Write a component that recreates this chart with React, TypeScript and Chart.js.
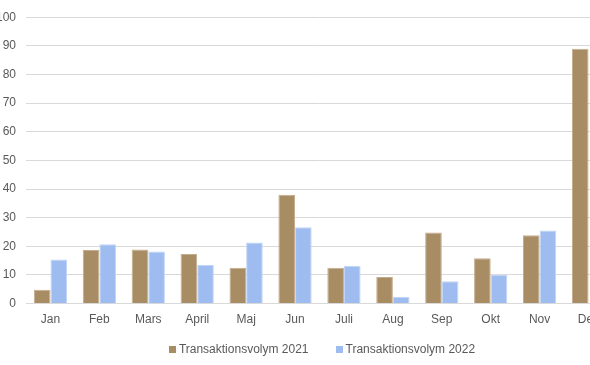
import React, { useEffect, useRef } from "react";
import { Chart, registerables } from "chart.js";

Chart.register(...registerables);

const months = ["Jan", "Feb", "Mars", "April", "Maj", "Jun", "Juli", "Aug", "Sep", "Okt", "Nov", "Dec"];
const volume2021 = [4.8, 18.7, 18.9, 17.3, 12.5, 38, 12.5, 9.3, 24.8, 15.8, 23.9, 89];
const volume2022 = [15.4, 20.7, 18.2, 13.6, 21.3, 26.7, 13.2, 2.4, 7.8, 10.1, 25.5, null];
const seriesNames = ["Transaktionsvolym 2021", "Transaktionsvolym 2022"];

const FONT = '"Liberation Sans", Arial, sans-serif';
const CANVAS_LEFT = -10;
const LEGEND_CENTER_X = 322 - CANVAS_LEFT;
const LEGEND_Y = 349;

const bottomLegend = {
  id: "bottomLegend",
  afterDraw(chart: any) {
    const ctx = chart.ctx as CanvasRenderingContext2D;
    ctx.save();
    ctx.font = `12px ${FONT}`;
    ctx.textBaseline = "middle";
    ctx.textAlign = "left";
    const box = 7;
    const gap = 3;
    const itemGap = 27;
    const items = chart.data.datasets.map((d: any) => ({
      text: d.label as string,
      color: d.backgroundColor as string,
      w: ctx.measureText(d.label).width,
    }));
    const total = items.reduce((s: number, it: any) => s + box + gap + it.w, 0) + itemGap * (items.length - 1);
    let x = LEGEND_CENTER_X - total / 2;
    for (const it of items) {
      ctx.fillStyle = it.color;
      ctx.fillRect(Math.round(x), Math.round(LEGEND_Y - box / 2), box, box);
      x += box + gap;
      ctx.fillStyle = "#595959";
      ctx.fillText(it.text, x, LEGEND_Y + 0.5);
      x += it.w + itemGap;
    }
    ctx.restore();
  },
};

export default function App() {
  const ref = useRef<HTMLCanvasElement | null>(null);

  useEffect(() => {
    if (!ref.current) return;
    const chart = new Chart(ref.current, {
      type: "bar",
      data: {
        labels: months,
        datasets: [
          {
            label: seriesNames[0],
            data: volume2021,
            backgroundColor: "#a88c64",
            borderColor: "#c4ad8c",
            borderWidth: 1,
          },
          {
            label: seriesNames[1],
            data: volume2022 as any,
            backgroundColor: "#9ebcf0",
            borderColor: "#c2d5f7",
            borderWidth: 1,
          },
        ],
      },
      plugins: [bottomLegend],
      options: {
        responsive: false,
        animation: false,
        layout: { padding: { left: 0, right: 41, top: 16, bottom: 29 } },
        datasets: { bar: { categoryPercentage: 0.68, barPercentage: 1 } },
        scales: {
          x: {
            grid: { display: false, drawTicks: false },
            border: { display: true, color: "#d9d9d9", width: 1 },
            ticks: { color: "#595959", font: { family: FONT, size: 12 }, padding: 9 },
          },
          y: {
            min: 0,
            max: 100,
            ticks: { stepSize: 10, color: "#595959", font: { family: FONT, size: 12 }, padding: 10 },
            grid: { color: "#d9d9d9", drawTicks: false },
            border: { display: false },
            afterFit: (scale: any) => {
              scale.width = 36;
            },
          },
        },
        plugins: {
          legend: { display: false },
          tooltip: { enabled: false },
        },
      },
    });
    return () => chart.destroy();
  }, []);

  return (
    <div style={{ position: "fixed", left: 0, top: 0, width: 590, height: 365, overflow: "hidden", background: "#fff" }}>
      <div style={{ position: "absolute", left: CANVAS_LEFT, top: 0, width: 664, height: 365 }}>
        <canvas ref={ref} width={664} height={365} style={{ display: "block" }} />
      </div>
    </div>
  );
}
